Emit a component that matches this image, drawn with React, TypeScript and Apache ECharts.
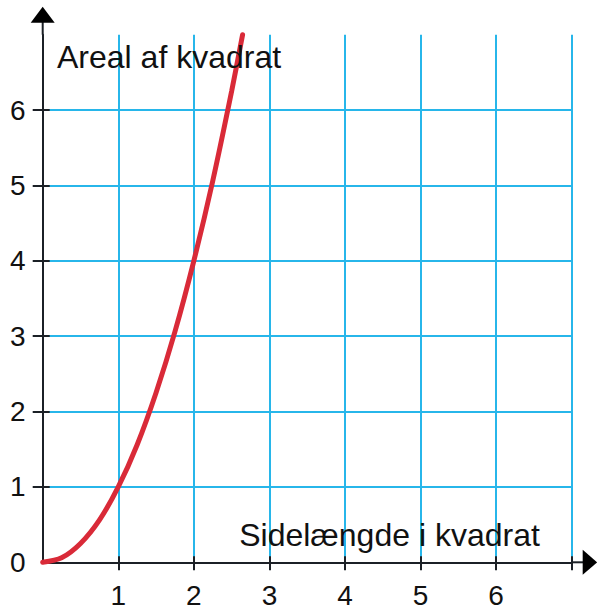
import React, { useEffect, useRef } from "react";
import * as echarts from "echarts";

// Data (side length -> area of square)
const sideLengths = [0, 0.25, 0.5, 0.75, 1, 1.25, 1.5, 1.75, 2, 2.25, 2.5, 2.645];
const areas = [0, 0.06, 0.25, 0.56, 1, 1.56, 2.25, 3.06, 4, 5.06, 6.25, 7];

const xTickLabels = [1, 2, 3, 4, 5, 6];
const yTickLabels = [0, 1, 2, 3, 4, 5, 6];
const xTicks = [1, 2, 3, 4, 5, 6, 7];
const yTicks = [1, 2, 3, 4, 5, 6];

const yTitle = "Areal af kvadrat";
const xTitle = "Sidelængde i kvadrat";

const AX = "#1b2026";
const GRID = "#27b6ea";
const CURVE = "#d92a38";
const TEXT = "#111111";
const FONT = '"Liberation Sans", Arial, Helvetica, sans-serif';

export default function App() {
  const ref = useRef<HTMLDivElement>(null);

  useEffect(() => {
    if (!ref.current) return;
    const chart = echarts.init(ref.current, null, { renderer: "svg" });

    const tickStyle = { color: AX, width: 2 };
    const option: any = {
      animation: false,
      backgroundColor: "#ffffff",
      grid: { left: 42.7, top: 34.7, right: 25.3, bottom: 47.7, containLabel: false },
      xAxis: [
        {
          type: "value",
          min: 0,
          max: 7,
          interval: 1,
          position: "bottom",
          axisLine: { show: true, onZero: false, lineStyle: { color: AX, width: 2 } },
          axisTick: { show: true, inside: false, length: 8, customValues: xTicks, lineStyle: tickStyle },
          axisLabel: {
            show: true,
            customValues: xTickLabels,
            fontSize: 28,
            color: TEXT,
            fontFamily: FONT,
            margin: 19,
          },
          splitLine: { show: true, lineStyle: { color: GRID, width: 2 } },
          z: 3,
        },
        {
          type: "value",
          min: 0,
          max: 7,
          interval: 1,
          position: "bottom",
          axisLine: { show: false, onZero: false },
          axisTick: { show: true, inside: true, length: 6, customValues: xTicks, lineStyle: tickStyle },
          axisLabel: { show: false },
          splitLine: { show: false },
          z: 3,
        },
      ],
      yAxis: [
        {
          type: "value",
          min: 0,
          max: 7,
          interval: 1,
          position: "left",
          axisLine: { show: true, onZero: false, lineStyle: { color: AX, width: 2 } },
          axisTick: { show: true, inside: false, length: 10, customValues: yTicks, lineStyle: tickStyle },
          axisLabel: {
            show: true,
            customValues: yTickLabels,
            fontSize: 28,
            color: TEXT,
            fontFamily: FONT,
            margin: 17,
          },
          splitLine: { show: true, lineStyle: { color: GRID, width: 2 } },
          z: 3,
        },
        {
          type: "value",
          min: 0,
          max: 7,
          interval: 1,
          position: "left",
          axisLine: { show: false, onZero: false },
          axisTick: { show: true, inside: true, length: 7, customValues: yTicks, lineStyle: tickStyle },
          axisLabel: { show: false },
          splitLine: { show: false },
          z: 3,
        },
      ],
      series: [
        {
          type: "line",
          xAxisIndex: 0,
          yAxisIndex: 0,
          data: sideLengths.map((x, i) => [x, areas[i]]),
          smooth: 0.3,
          showSymbol: false,
          clip: false,
          lineStyle: { color: CURVE, width: 5, cap: "round" },
          z: 5,
        },
      ],
    };
    chart.setOption(option);

    const o = chart.convertToPixel({ gridIndex: 0 }, [0, 0]) as number[];
    const c = chart.convertToPixel({ gridIndex: 0 }, [7, 7]) as number[];

    chart.setOption({
      graphic: [
        {
          type: "line",
          shape: { x1: c[0], y1: o[1], x2: c[0] + 13, y2: o[1] },
          style: { stroke: AX, lineWidth: 2 },
          z: 10,
        },
        {
          type: "polygon",
          shape: {
            points: [
              [c[0] + 11, o[1] - 12.5],
              [c[0] + 25.5, o[1]],
              [c[0] + 11, o[1] + 12.5],
            ],
          },
          style: { fill: "#000000" },
          z: 10,
        },
        {
          type: "line",
          shape: { x1: o[0], y1: c[1], x2: o[0], y2: c[1] - 14 },
          style: { stroke: AX, lineWidth: 2 },
          z: 10,
        },
        {
          type: "polygon",
          shape: {
            points: [
              [o[0] - 12, c[1] - 12],
              [o[0], c[1] - 28],
              [o[0] + 12, c[1] - 12],
            ],
          },
          style: { fill: "#000000" },
          z: 10,
        },
        {
          type: "text",
          x: o[0] + 14.3,
          y: c[1] + 22.3,
          style: {
            text: yTitle,
            fontSize: 32,
            fontFamily: FONT,
            fill: TEXT,
            align: "left",
            verticalAlign: "middle",
          },
          z: 10,
        },
        {
          type: "text",
          x: o[0] + 196.5,
          y: o[1] - 27.2,
          style: {
            text: xTitle,
            fontSize: 32,
            fontFamily: FONT,
            fill: TEXT,
            align: "left",
            verticalAlign: "middle",
          },
          z: 10,
        },
      ],
    });

    return () => {
      chart.dispose();
    };
  }, []);

  return (
    <div
      ref={ref}
      style={{ position: "fixed", left: 0, top: 0, width: 597, height: 610, background: "#fff" }}
    />
  );
}
